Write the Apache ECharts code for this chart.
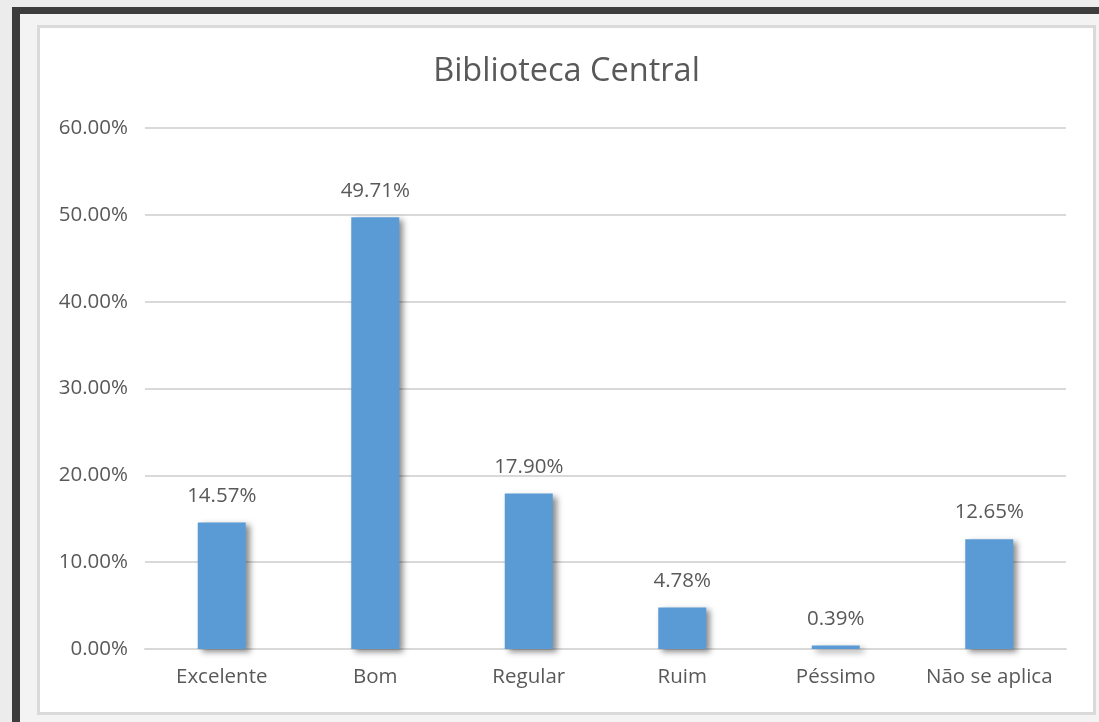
<!DOCTYPE html>
<html>
<head>
<meta charset="utf-8">
<script src="https://cdn.jsdelivr.net/npm/echarts@6/dist/echarts.min.js"></script>
<style>
  html, body { margin: 0; padding: 0; }
  body { width: 1099px; height: 722px; background: #ececec; position: relative; overflow: hidden; }
  .frame {
    position: absolute; left: 12px; top: 7px; width: 1200px; height: 800px;
    border-left: 8px solid #3d3d3d; border-top: 7px solid #3d3d3d;
    background: #f3f3f3;
  }
  .card {
    position: absolute; left: 37px; top: 25px; width: 1053px; height: 684px;
    border: 3px solid #dadada; background: #fff;
  }
  #chart { width: 1053px; height: 684px; }
</style>
</head>
<body>
<div class="frame"></div>
<div class="card"><div id="chart"></div></div>
<script>
const categories = ['Excelente', 'Bom', 'Regular', 'Ruim', 'Péssimo', 'Não se aplica'];
const values = [14.57, 49.71, 17.90, 4.78, 0.39, 12.65];
const titleText = 'Biblioteca Central';

const fontFamily = '"Open Sans", "DejaVu Sans", sans-serif';
const textColor = '#595959';
const labelSize = 20.5;

const chart = echarts.init(document.getElementById('chart'));
chart.setOption({
  animation: false,
  title: {
    text: titleText,
    left: 'center',
    top: 22,
    textStyle: { fontFamily, fontSize: 32.5, fontWeight: 'normal', color: textColor },
  },
  grid: { left: 105, right: 27, top: 100, bottom: 63 },
  xAxis: {
    type: 'category',
    data: categories,
    axisLine: { lineStyle: { color: '#d9d9d9', width: 2 } },
    axisTick: { show: false },
    axisLabel: { fontFamily, fontSize: labelSize, color: textColor, margin: 18, interval: 0 },
  },
  yAxis: {
    type: 'value',
    min: 0,
    max: 60,
    interval: 10,
    axisLine: { show: false },
    axisTick: { show: false },
    splitLine: { lineStyle: { color: '#d9d9d9', width: 2 } },
    axisLabel: {
      fontFamily, fontSize: labelSize, color: textColor, margin: 17,
      formatter: (v) => v.toFixed(2) + '%',
    },
  },
  series: [
    {
      type: 'bar',
      data: values,
      barWidth: 48,
      itemStyle: {
        color: '#5b9bd5',
        shadowColor: 'rgba(0, 0, 0, 0.45)',
        shadowBlur: 6,
        shadowOffsetX: 4,
        shadowOffsetY: 3,
      },
      label: {
        show: true,
        position: 'top',
        distance: 16,
        fontFamily, fontSize: labelSize, color: textColor,
        formatter: (p) => p.value.toFixed(2) + '%',
      },
    },
  ],
});
</script>
</body>
</html>
